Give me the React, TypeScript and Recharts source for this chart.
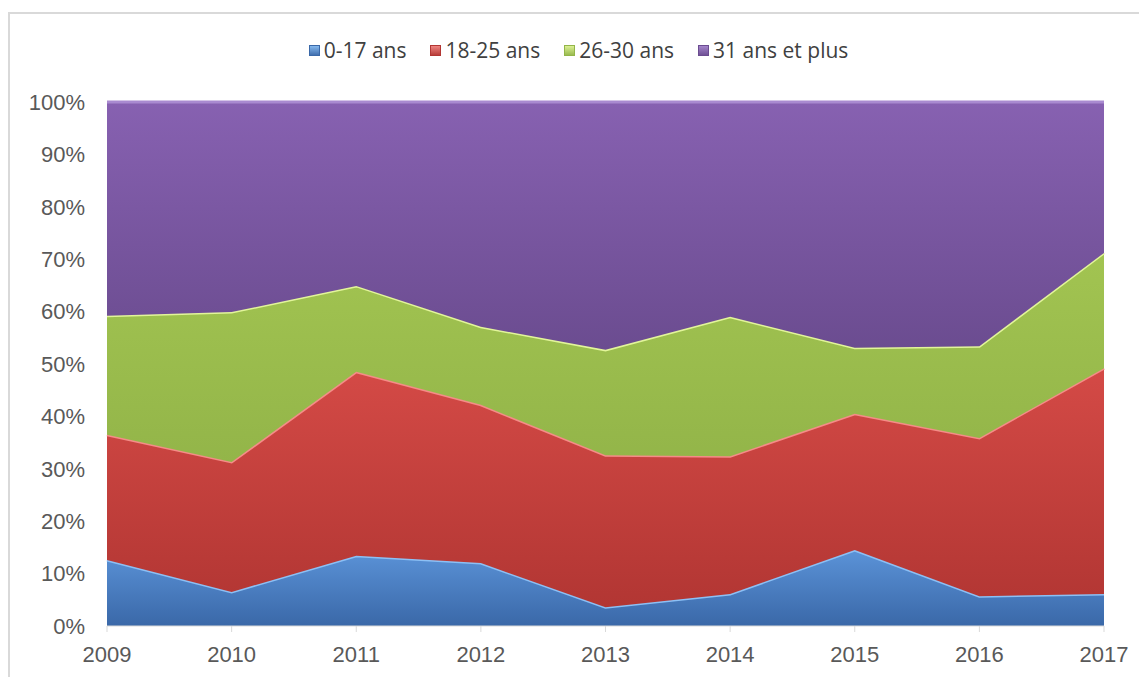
import React from 'react';
import { AreaChart, Area, XAxis, YAxis } from 'recharts';

const years = ['2009', '2010', '2011', '2012', '2013', '2014', '2015', '2016', '2017'];
const age0to17 = [12.6, 6.5, 13.4, 12.0, 3.6, 6.1, 14.5, 5.7, 6.1];
const age18to25 = [23.9, 24.8, 35.1, 30.2, 29.0, 26.3, 26.0, 30.2, 43.1];
const age26to30 = [22.7, 28.6, 16.4, 14.9, 20.1, 26.6, 12.6, 17.5, 22.0];
const age31plus = [40.8, 40.1, 35.1, 42.9, 47.3, 41.0, 46.9, 46.6, 28.8];
const yTicks = [0, 0.1, 0.2, 0.3, 0.4, 0.5, 0.6, 0.7, 0.8, 0.9, 1];

const data = years.map((year, i) => ({
  year,
  a: age0to17[i],
  b: age18to25[i],
  c: age26to30[i],
  d: age31plus[i],
}));

const series = [
  { key: 'a', name: '0-17 ans', top: '#5b93d8', bottom: '#3a68a8', edge: '#8cc0f5' },
  { key: 'b', name: '18-25 ans', top: '#d44a46', bottom: '#b23633', edge: '#f58c88' },
  { key: 'c', name: '26-30 ans', top: '#a2c451', bottom: '#93b549', edge: '#e2f59a' },
  { key: 'd', name: '31 ans et plus', top: '#8761b1', bottom: '#6b4c90', edge: '#a98ad0' },
];

const tickFont = { fill: '#595959', fontSize: 22, fontFamily: '"Liberation Sans", Arial, sans-serif' };

const LegendBar = () => (
  <div
    style={{
      position: 'absolute',
      top: 21,
      left: 0,
      width: '100%',
      display: 'flex',
      justifyContent: 'center',
      fontFamily: '"Open Sans", sans-serif',
      fontSize: 21,
      lineHeight: '30px',
      color: '#404040',
    }}
  >
    {series.map((s) => (
      <div key={s.key} style={{ display: 'flex', alignItems: 'center', margin: '0 12px' }}>
        <span
          style={{
            display: 'inline-block',
            width: 11,
            height: 11,
            marginRight: 4,
            background: `linear-gradient(${s.edge}, ${s.bottom})`,
            boxShadow: `inset 0 0 0 1px ${s.bottom}`,
          }}
        />
        {s.name}
      </div>
    ))}
  </div>
);

const App: React.FC = () => {
  return (
    <div
      style={{
        position: 'relative',
        marginTop: 4,
        width: 1137,
        height: 663,
        borderTop: '2px solid #d9d9d9',
        borderLeft: '2px solid #d9d9d9',
        background: '#fff',
      }}
    >
      <LegendBar />
      <AreaChart
        width={1137}
        height={663}
        data={data}
        stackOffset="expand"
        margin={{ top: 88, right: 43, left: 0, bottom: 21 }}
      >
        <defs>
          {series.map((s) => (
            <linearGradient key={s.key} id={`grad-${s.key}`} x1="0" y1="0" x2="0" y2="1">
              <stop offset="0%" stopColor={s.top} />
              <stop offset="100%" stopColor={s.bottom} />
            </linearGradient>
          ))}
        </defs>
        <XAxis
          dataKey="year"
          stroke="#d9d9d9"
          tickSize={6}
          tickMargin={14}
          height={30}
          tick={tickFont}
        />
        <YAxis
          width={97}
          ticks={yTicks}
          domain={[0, 1]}
          interval={0}
          axisLine={false}
          tickLine={false}
          tickSize={0}
          tickMargin={22}
          tickFormatter={(v: number) => `${Math.round(v * 100)}%`}
          tick={tickFont}
        />
        {series.map((s) => (
          <Area
            key={s.key}
            type="linear"
            dataKey={s.key}
            name={s.name}
            stackId="1"
            stroke={s.edge}
            strokeWidth={3}
            fill={`url(#grad-${s.key})`}
            fillOpacity={1}
            isAnimationActive={false}
          />
        ))}
      </AreaChart>
    </div>
  );
};

export default App;
